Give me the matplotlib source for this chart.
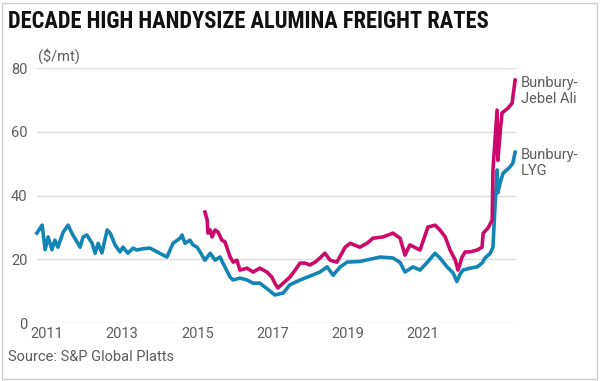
import matplotlib
matplotlib.use("Agg")
import matplotlib.pyplot as plt
from matplotlib import font_manager
from matplotlib.patches import Rectangle

# Handysize alumina freight rates ($/mt), x in axis-year units
lyg_x = [2010.73, 2010.87, 2010.95, 2011.03, 2011.13, 2011.21, 2011.29, 2011.43, 2011.56, 2011.66,
         2011.80, 2011.88, 2011.96, 2012.06, 2012.20, 2012.28, 2012.36, 2012.46, 2012.60, 2012.68,
         2012.81, 2012.94, 2013.02, 2013.15, 2013.29, 2013.39, 2013.55, 2013.74, 2013.93, 2014.09,
         2014.19, 2014.35, 2014.54, 2014.59, 2014.67, 2014.80, 2014.88, 2014.99, 2015.07, 2015.20,
         2015.34, 2015.47, 2015.60, 2015.73, 2015.87, 2015.95, 2016.13, 2016.32, 2016.48, 2016.66,
         2016.88, 2017.06, 2017.28, 2017.46, 2017.73, 2017.99, 2018.26, 2018.45, 2018.61, 2018.79,
         2018.98, 2019.32, 2019.59, 2019.86, 2020.20, 2020.39, 2020.52, 2020.73, 2020.92, 2021.11,
         2021.32, 2021.45, 2021.64, 2021.80, 2021.90, 2021.98, 2022.06, 2022.25, 2022.44, 2022.57,
         2022.65, 2022.79, 2022.86, 2022.91, 2022.97, 2022.99, 2023.05, 2023.13, 2023.31, 2023.39,
         2023.45]
lyg_v = [28.2, 30.7, 23.0, 27.0, 23.0, 26.0, 23.8, 28.5, 30.7, 28.2,
         25.4, 23.8, 27.0, 27.6, 25.0, 21.9, 25.0, 22.0, 29.2, 28.2,
         24.5, 22.3, 23.8, 21.9, 23.5, 22.9, 23.3, 23.5, 22.3, 21.3,
         20.7, 25.0, 26.6, 27.6, 25.0, 26.0, 24.5, 23.8, 22.3, 19.7,
         21.9, 19.7, 20.7, 17.6, 14.4, 13.5, 14.1, 13.5, 12.5, 12.5,
         10.5, 8.8, 9.4, 12.0, 13.5, 14.7, 16.0, 17.6, 15.0, 17.5,
         19.1, 19.3, 20.0, 20.7, 20.4, 19.0, 16.0, 17.6, 16.6, 19.0,
         21.9, 20.4, 17.6, 15.7, 13.0, 15.2, 16.6, 17.2, 17.6, 18.8,
         20.4, 21.9, 23.8, 35.4, 48.0, 40.8, 43.9, 47.0, 48.9, 50.2,
         53.6]

jebel_x = [2015.20, 2015.26, 2015.28, 2015.34, 2015.39, 2015.47, 2015.55, 2015.65, 2015.73, 2015.79,
           2015.87, 2015.95, 2016.05, 2016.13, 2016.32, 2016.48, 2016.66, 2016.85, 2016.98, 2017.06,
           2017.14, 2017.28, 2017.46, 2017.60, 2017.73, 2017.86, 2017.99, 2018.13, 2018.26, 2018.39,
           2018.53, 2018.71, 2018.93, 2019.06, 2019.32, 2019.51, 2019.67, 2019.94, 2020.20, 2020.39,
           2020.52, 2020.65, 2020.92, 2021.13, 2021.32, 2021.45, 2021.59, 2021.72, 2021.86, 2021.93,
           2022.04, 2022.12, 2022.25, 2022.44, 2022.57, 2022.60, 2022.73, 2022.84, 2022.86, 2022.97,
           2022.99, 2023.05, 2023.10, 2023.26, 2023.37, 2023.39, 2023.45]
jebel_v = [34.8, 32.3, 28.2, 29.2, 27.0, 29.2, 28.5, 26.0, 25.5, 23.5,
           20.7, 19.1, 19.7, 16.6, 17.2, 16.0, 17.2, 16.0, 14.4, 12.5,
           11.0, 12.5, 14.4, 16.6, 18.8, 18.8, 18.2, 19.1, 20.4, 21.9,
           19.7, 19.1, 23.8, 25.0, 23.8, 25.0, 26.6, 27.0, 28.2, 26.6,
           21.3, 24.5, 22.9, 30.1, 30.7, 29.2, 27.0, 22.9, 19.7, 16.6,
           20.7, 22.3, 22.3, 22.9, 23.8, 28.2, 29.8, 32.3, 48.0, 66.8,
           51.0, 59.6, 65.9, 67.4, 69.0, 70.9, 76.2]

year_ticks = [2011, 2013, 2015, 2017, 2019, 2021]
value_ticks = [0, 20, 40, 60, 80]
title = "DECADE HIGH HANDYSIZE ALUMINA FREIGHT RATES"

blue = "#1385b5"
magenta = "#cc0a6c"
grey = "#5c5c5c"
plt.rcParams["font.family"] = ["Roboto", "DejaVu Sans"]

# pick a narrow face for the title if one is around
installed = {f.name for f in font_manager.fontManager.ttflist}
title_font = "DejaVu Sans"
for name in ["Roboto Condensed", "Liberation Sans Narrow", "Open Sans Condensed",
             "Roboto", "Liberation Sans"]:
    if name in installed:
        title_font = name
        break

fig = plt.figure(figsize=(6, 3.81), dpi=100)
ax = fig.add_axes([0.0617, 0.1522, 0.7983, 0.6693])

ax.plot(lyg_x, lyg_v, color=blue, lw=2.6, solid_joinstyle="round", clip_on=False)
ax.plot(jebel_x, jebel_v, color=magenta, lw=2.6, solid_joinstyle="round", clip_on=False)

ax.set_xlim(2010.734, 2023.473)
ax.set_ylim(0, 80)
ax.set_xticks(year_ticks)
ax.set_xticklabels([str(y) for y in year_ticks])
ax.set_yticks(value_ticks)
ax.grid(axis="y", color="#dddddd", lw=1)
ax.set_axisbelow(True)
for s in ax.spines.values():
    s.set_visible(False)
ax.tick_params(axis="both", length=0, labelsize=10.5, labelcolor=grey)
ax.tick_params(axis="y", pad=7)
ax.tick_params(axis="x", pad=3)

ax.annotate("Bunbury-\nJebel Ali", xy=(jebel_x[-1], jebel_v[-1]), xytext=(6, 4),
            textcoords="offset pixels", va="top", ha="left", fontsize=10.5,
            color=grey, linespacing=1.15, annotation_clip=False)
ax.annotate("Bunbury-\nLYG", xy=(lyg_x[-1], lyg_v[-1]), xytext=(6, 4),
            textcoords="offset pixels", va="top", ha="left", fontsize=10.5,
            color=grey, linespacing=1.15, annotation_clip=False)

t = fig.text(8 / 600, 1 - 22 / 381, title, family=title_font, weight="bold",
             fontsize=19, color="#111111", va="center", ha="left")
# scale the title so it spans the same width as in the original (~482 px)
fig.canvas.draw()
w = t.get_window_extent().width
t.set_fontsize(19 * 482 / w)

fig.text(38 / 600, 1 - 56 / 381, "($/mt)", fontsize=10.5, color=grey, va="center", ha="left")
fig.text(8 / 600, 1 - 357 / 381, "Source: S&P Global Platts", fontsize=10.5, color=grey,
         va="center", ha="left")

fig.patches.append(Rectangle((2 / 600, 2 / 381), 595 / 600, 376 / 381, transform=fig.transFigure,
                             fill=False, edgecolor="#cccccc", lw=1))

fig.savefig("out.png", dpi=100)
